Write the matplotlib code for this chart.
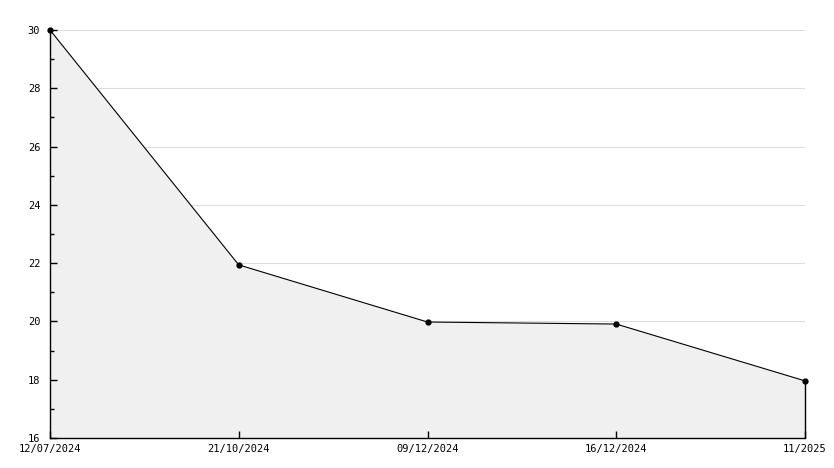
import numpy as np
import matplotlib
matplotlib.use('Agg')
import matplotlib.pyplot as plt
from matplotlib.ticker import MultipleLocator

labels = ['12/07/2024', '21/10/2024', '09/12/2024', '16/12/2024', '11/2025']
values = [30, 21.94, 19.98, 19.91, 17.96]

fig = plt.figure(figsize=(8.34, 4.68), dpi=100)
ax = fig.add_axes([50/834, 30/468, 755/834, 408/468])

x = np.arange(len(values))
# grid under the filled area
for g in range(18, 31, 2):
    ax.axhline(g, color='#dddddd', linewidth=0.8, zorder=0)
ax.fill_between(x, values, 16, color='#f0f0f0', linewidth=0, zorder=1)
ax.plot(x, values, color='black', linewidth=0.8, marker='o', markersize=3.5,
        zorder=3, clip_on=False)
ax.vlines(x[-1], 16, values[-1], color='black', linewidth=1, zorder=3, clip_on=False)

ax.set_xlim(0, len(values) - 1)
ax.set_ylim(16, 30)
ax.yaxis.set_major_locator(MultipleLocator(2))
ax.yaxis.set_minor_locator(MultipleLocator(1))
ax.set_xticks(x)
ax.set_xticklabels(labels)

ax.set_axisbelow(False)
for s in ['top', 'right']:
    ax.spines[s].set_visible(False)
for s in ['left', 'bottom']:
    ax.spines[s].set_linewidth(1)

ax.tick_params(axis='both', which='major', direction='in', length=5, width=1,
               labelsize=7.5, pad=7)
ax.tick_params(axis='y', which='minor', direction='in', length=3, width=1)
ax.tick_params(axis='x', pad=4)
for t in ax.get_xticklabels() + ax.get_yticklabels():
    t.set_family('DejaVu Sans Mono')

fig.savefig('out.png', dpi=100)
